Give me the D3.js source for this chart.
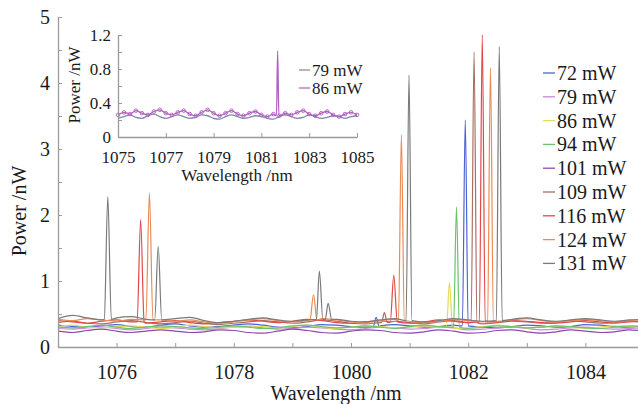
<!DOCTYPE html>
<html>
<head>
<meta charset="utf-8">
<script src="https://cdn.jsdelivr.net/npm/d3@7"></script>
<style>
  html, body { margin: 0; padding: 0; background: #fff; }
  svg { display: block; }
</style>
</head>
<body>
<div id="chart"></div>
<script>
// Spectra at different pump powers (main plot) + inset of the two lowest ones

const pumpLabels = ['72 mW', '79 mW', '86 mW', '94 mW', '101 mW', '109 mW', '116 mW', '124 mW', '131 mW'];
const pumpColors = ['#4f63d2', '#c88ad8', '#e3dc55', '#6cc26c', '#8d48b0', '#a86f63', '#e2474a', '#ec8a55', '#7a7a7a'];

// wavelength grid of the baseline samples (nm)
const nmGrid = [1075, 1075.25, 1075.5, 1075.75, 1076, 1076.25, 1076.5, 1076.75, 1077, 1077.25,
  1077.5, 1077.75, 1078, 1078.25, 1078.5, 1078.75, 1079, 1079.25, 1079.5, 1079.75,
  1080, 1080.25, 1080.5, 1080.75, 1081, 1081.25, 1081.5, 1081.75, 1082, 1082.25,
  1082.5, 1082.75, 1083, 1083.25, 1083.5, 1083.75, 1084, 1084.25, 1084.5, 1084.75, 1085];

// baseline power (nW) per pump power
const base72 = [0.33,0.31,0.30,0.32,0.34,0.31,0.30,0.33,0.35,0.32,0.30,0.31,0.33,0.35,0.33,0.30,0.29,0.31,0.34,0.33,0.31,0.30,0.32,0.34,0.32,0.30,0.31,0.33,0.32,0.30,0.29,0.31,0.33,0.32,0.30,0.31,0.34,0.33,0.31,0.30,0.32];
const base79 = [0.28,0.27,0.29,0.30,0.28,0.26,0.28,0.30,0.29,0.27,0.26,0.28,0.30,0.31,0.29,0.27,0.28,0.30,0.29,0.27,0.26,0.28,0.30,0.29,0.27,0.28,0.30,0.29,0.26,0.27,0.29,0.30,0.28,0.26,0.27,0.29,0.30,0.28,0.27,0.28,0.29];
const base86 = [0.31,0.33,0.30,0.29,0.31,0.32,0.30,0.28,0.30,0.33,0.31,0.29,0.30,0.32,0.31,0.29,0.31,0.33,0.30,0.28,0.30,0.32,0.31,0.29,0.30,0.32,0.30,0.28,0.29,0.31,0.33,0.31,0.29,0.30,0.32,0.30,0.28,0.30,0.32,0.31,0.29];
const base94 = [0.30,0.29,0.31,0.33,0.30,0.28,0.30,0.32,0.31,0.29,0.28,0.30,0.32,0.30,0.28,0.29,0.32,0.33,0.31,0.29,0.30,0.32,0.30,0.28,0.31,0.33,0.31,0.29,0.28,0.30,0.32,0.31,0.29,0.30,0.32,0.31,0.29,0.28,0.30,0.32,0.31];
const base101 = [0.24,0.22,0.25,0.27,0.24,0.22,0.24,0.26,0.24,0.22,0.23,0.26,0.25,0.22,0.21,0.24,0.27,0.25,0.22,0.21,0.24,0.26,0.25,0.22,0.21,0.23,0.26,0.24,0.21,0.22,0.25,0.26,0.23,0.21,0.23,0.26,0.24,0.22,0.23,0.26,0.24];
const base109 = [0.37,0.39,0.36,0.35,0.38,0.40,0.37,0.35,0.37,0.39,0.36,0.34,0.36,0.38,0.40,0.38,0.36,0.38,0.41,0.39,0.36,0.35,0.37,0.39,0.37,0.35,0.38,0.40,0.37,0.35,0.37,0.39,0.38,0.36,0.37,0.40,0.38,0.36,0.37,0.39,0.37];
const base116 = [0.40,0.38,0.36,0.39,0.41,0.38,0.36,0.38,0.40,0.37,0.35,0.37,0.39,0.41,0.39,0.37,0.39,0.42,0.40,0.37,0.36,0.38,0.40,0.38,0.36,0.38,0.41,0.39,0.37,0.36,0.38,0.40,0.39,0.37,0.36,0.38,0.40,0.38,0.36,0.38,0.39];
const base124 = [0.42,0.40,0.43,0.41,0.39,0.42,0.44,0.41,0.39,0.41,0.38,0.36,0.38,0.41,0.43,0.40,0.38,0.40,0.43,0.41,0.38,0.37,0.40,0.42,0.39,0.37,0.39,0.42,0.40,0.38,0.39,0.41,0.43,0.40,0.38,0.40,0.42,0.40,0.38,0.40,0.41];
const base131 = [0.43,0.48,0.44,0.41,0.44,0.46,0.42,0.40,0.43,0.45,0.40,0.37,0.39,0.42,0.44,0.41,0.39,0.41,0.44,0.42,0.39,0.38,0.41,0.43,0.40,0.38,0.40,0.43,0.41,0.39,0.40,0.42,0.44,0.41,0.39,0.41,0.43,0.41,0.39,0.41,0.42];

// laser lines: each peak is [left foot, top, right foot] as [nm, nW]
const peaks72 = [
  [[1080.38, 0.31], [1080.43, 0.45], [1080.48, 0.31]],
  [[1081.90, 0.32], [1081.95, 3.44], [1082.00, 0.32]]
];
const peaks79 = [];
const peaks86 = [
  [[1081.63, 0.30], [1081.68, 0.98], [1081.73, 0.30]]
];
const peaks94 = [
  [[1081.75, 0.30], [1081.80, 2.12], [1081.85, 0.30]]
];
const peaks101 = [];
const peaks109 = [
  [[1080.52, 0.37], [1080.57, 0.52], [1080.62, 0.37]],
  [[1082.05, 0.37], [1082.10, 4.47], [1082.15, 0.37]]
];
const peaks116 = [
  [[1076.35, 0.38], [1076.41, 1.93], [1076.47, 0.38]],
  [[1080.67, 0.38], [1080.73, 1.09], [1080.79, 0.38]],
  [[1082.19, 0.38], [1082.24, 4.73], [1082.29, 0.38]]
];
const peaks124 = [
  [[1076.50, 0.41], [1076.56, 2.33], [1076.62, 0.41]],
  [[1079.30, 0.41], [1079.36, 0.79], [1079.42, 0.41]],
  [[1080.81, 0.40], [1080.86, 3.21], [1080.91, 0.40]],
  [[1082.33, 0.40], [1082.38, 4.23], [1082.43, 0.40]]
];
const peaks131 = [
  [[1075.79, 0.42], [1075.85, 2.28], [1075.91, 0.42]],
  [[1076.65, 0.41], [1076.71, 1.53], [1076.77, 0.41]],
  [[1079.41, 0.42], [1079.46, 1.15], [1079.52, 0.42]],
  [[1079.56, 0.42], [1079.61, 0.66], [1079.67, 0.42]],
  [[1080.94, 0.40], [1080.99, 4.12], [1081.04, 0.40]],
  [[1082.48, 0.40], [1082.53, 4.55], [1082.58, 0.40]]
];

const baselines = [base72, base79, base86, base94, base101, base109, base116, base124, base131];
const peakSets = [peaks72, peaks79, peaks86, peaks94, peaks101, peaks109, peaks116, peaks124, peaks131];

// inset: 79 mW and 86 mW
const insetLabels = ['79 mW', '86 mW'];
const insetColors = ['#7d8aa8', '#b25fc2'];
const insetLegendColors = ['#a08890', '#b070c0'];
const inset79 = [0.22,0.24,0.26,0.23,0.22,0.25,0.27,0.24,0.22,0.24,0.26,0.24,0.22,0.23,0.26,0.25,0.22,0.21,0.24,0.26,0.24,0.22,0.23,0.25,0.24,0.22,0.21,0.24,0.26,0.24,0.22,0.23,0.26,0.24,0.22,0.23,0.25,0.24,0.22,0.24,0.25];
const inset86 = [0.26,0.29,0.27,0.31,0.28,0.26,0.30,0.32,0.28,0.26,0.29,0.31,0.27,0.25,0.29,0.32,0.28,0.25,0.28,0.31,0.27,0.25,0.28,0.30,0.26,0.24,0.27,0.25,0.28,0.26,0.29,0.31,0.27,0.25,0.28,0.30,0.26,0.24,0.27,0.29,0.26];
const insetPeaks79 = [];
const insetPeaks86 = [
  [[1081.63, 0.25], [1081.68, 1.01], [1081.73, 0.25]]
];

// ticks
const xMinorTicks = [1075, 1076, 1077, 1078, 1079, 1080, 1081, 1082, 1083, 1084, 1085];
const xTickLabels = [1076, 1078, 1080, 1082, 1084];
const yMinorTicks = [0, 0.5, 1, 1.5, 2, 2.5, 3, 3.5, 4, 4.5, 5];
const yTickLabels = [0, 1, 2, 3, 4, 5];
const insetXTicks = [1075, 1077, 1079, 1081, 1083, 1085];
const insetYMinorTicks = [0, 0.2, 0.4, 0.6, 0.8, 1.0, 1.2];
const insetYTickLabels = [0, 0.4, 0.8, 1.2];

const serif = '"Liberation Serif", "DejaVu Serif", "Noto Serif", "Tinos", "Nimbus Roman", "FreeSerif", "Times", serif';
const ink = '#1a1a1a';

// merge a baseline with its peaks (grid samples that fall inside a peak are dropped)
function buildSpectrum(base, peaks) {
  const pts = nmGrid.map((nm, i) => [nm, base[i]])
    .filter(p => !peaks.some(pk => p[0] > pk[0][0] - 0.02 && p[0] < pk[2][0] + 0.02));
  peaks.forEach(pk => pk.forEach(p => pts.push(p)));
  return pts.sort((a, b) => a[0] - b[0]);
}

function styleText(sel, size) {
  sel.style('font-family', serif)
    .style('font-size', size + 'px')
    .style('fill', ink);
}

const width = 638;
const height = 404;
const axisColor = '#9a9a9a';

const svg = d3.select('#chart')
  .append('svg')
  .attr('width', width)
  .attr('height', height);

// ---- main plot ----
const x = d3.scaleLinear().domain([1075, 1085]).range([58, 644]);
const y = d3.scaleLinear().domain([0, 5]).range([347, 17]);

svg.append('defs').append('clipPath')
  .attr('id', 'plot-clip')
  .append('rect')
  .attr('x', 58).attr('y', 0).attr('width', 600).attr('height', 348);

const line = d3.line()
  .x(d => x(d[0]))
  .y(d => y(d[1]))
  .curve(d3.curveMonotoneX);

const plot = svg.append('g').attr('clip-path', 'url(#plot-clip)');
baselines.forEach((base, i) => {
  plot.append('path')
    .datum(buildSpectrum(base, peakSets[i]))
    .attr('fill', 'none')
    .attr('stroke', pumpColors[i])
    .attr('stroke-width', 1.2)
    .attr('stroke-linejoin', 'round')
    .attr('d', line);
});

function styleAxis(g) {
  g.select('.domain').attr('stroke', axisColor).attr('stroke-width', 1.3);
  g.selectAll('.tick line').attr('stroke', axisColor).attr('stroke-width', 1);
}

// x axis: inward ticks, then labels
svg.append('g')
  .attr('transform', 'translate(0,347)')
  .call(d3.axisBottom(x).tickValues(xMinorTicks).tickSize(-4).tickSizeOuter(0).tickFormat(''))
  .call(styleAxis);

svg.append('g')
  .attr('transform', 'translate(0,347)')
  .call(d3.axisBottom(x).tickValues(xTickLabels).tickSize(0).tickPadding(18).tickFormat(d3.format('d')))
  .call(g => g.select('.domain').remove())
  .selectAll('text')
  .call(styleText, 20);

// y axis
svg.append('g')
  .attr('transform', 'translate(58,0)')
  .call(d3.axisLeft(y).tickValues(yMinorTicks).tickSize(-4).tickSizeOuter(0).tickFormat(''))
  .call(styleAxis);

svg.append('g')
  .attr('transform', 'translate(58,0)')
  .call(d3.axisLeft(y).tickValues(yTickLabels).tickSize(0).tickPadding(8).tickFormat(d3.format('d')))
  .call(g => g.select('.domain').remove())
  .selectAll('text')
  .call(styleText, 20);

svg.append('text')
  .attr('x', 336)
  .attr('y', 400)
  .attr('text-anchor', 'middle')
  .call(styleText, 20)
  .text('Wavelength /nm');

svg.append('text')
  .attr('transform', 'translate(26,211) rotate(-90)')
  .attr('text-anchor', 'middle')
  .call(styleText, 20)
  .text('Power /nW');

// legend
const legend = svg.append('g');
pumpLabels.forEach((label, i) => {
  const ly = 73 + i * 23.8;
  legend.append('line')
    .attr('x1', 543).attr('x2', 555)
    .attr('y1', ly).attr('y2', ly)
    .attr('stroke', pumpColors[i])
    .attr('stroke-width', 1.3);
  legend.append('text')
    .attr('x', 557)
    .attr('y', ly)
    .attr('dy', '0.35em')
    .call(styleText, 20)
    .text(label);
});

// ---- inset ----
const xi = d3.scaleLinear().domain([1075, 1085]).range([118, 357]);
const yi = d3.scaleLinear().domain([0, 1.2]).range([137, 35]);

const insetLine = d3.line()
  .x(d => xi(d[0]))
  .y(d => yi(d[1]))
  .curve(d3.curveMonotoneX);

const insetSeries = [buildSpectrum(inset79, insetPeaks79), buildSpectrum(inset86, insetPeaks86)];
insetSeries.forEach((pts, i) => {
  svg.append('path')
    .datum(pts)
    .attr('fill', 'none')
    .attr('stroke', insetColors[i])
    .attr('stroke-width', 1.3)
    .attr('d', insetLine);
});

// open markers on the 86 mW trace
svg.append('g')
  .selectAll('circle')
  .data(nmGrid.map((nm, i) => [nm, inset86[i]]))
  .join('circle')
  .attr('cx', d => xi(d[0]))
  .attr('cy', d => yi(d[1]))
  .attr('r', 1.8)
  .attr('fill', 'none')
  .attr('stroke', insetColors[1])
  .attr('stroke-width', 0.9);

svg.append('g')
  .attr('transform', 'translate(0,137)')
  .call(d3.axisBottom(xi).tickValues(insetXTicks).tickSize(-4).tickSizeOuter(0).tickPadding(14).tickFormat(d3.format('d')))
  .call(styleAxis)
  .selectAll('text')
  .call(styleText, 17);

svg.append('g')
  .attr('transform', 'translate(118,0)')
  .call(d3.axisLeft(yi).tickValues(insetYMinorTicks).tickSize(-4).tickSizeOuter(0).tickFormat(''))
  .call(styleAxis);

svg.append('g')
  .attr('transform', 'translate(118,0)')
  .call(d3.axisLeft(yi).tickValues(insetYTickLabels).tickSize(0).tickPadding(7).tickFormat(d => d === 0 ? '0' : d3.format('.1f')(d)))
  .call(g => g.select('.domain').remove())
  .selectAll('text')
  .call(styleText, 17);

svg.append('text')
  .attr('x', 237)
  .attr('y', 181)
  .attr('text-anchor', 'middle')
  .call(styleText, 17)
  .text('Wavelength /nm');

svg.append('text')
  .attr('transform', 'translate(80,85) rotate(-90)')
  .attr('text-anchor', 'middle')
  .call(styleText, 17)
  .text('Power /nW');

insetLabels.forEach((label, i) => {
  const ly = 70 + i * 18;
  svg.append('line')
    .attr('x1', 299).attr('x2', 310)
    .attr('y1', ly).attr('y2', ly)
    .attr('stroke', insetLegendColors[i])
    .attr('stroke-width', 1.3);
  svg.append('text')
    .attr('x', 312)
    .attr('y', ly)
    .attr('dy', '0.35em')
    .call(styleText, 17)
    .text(label);
});
</script>
</body>
</html>
